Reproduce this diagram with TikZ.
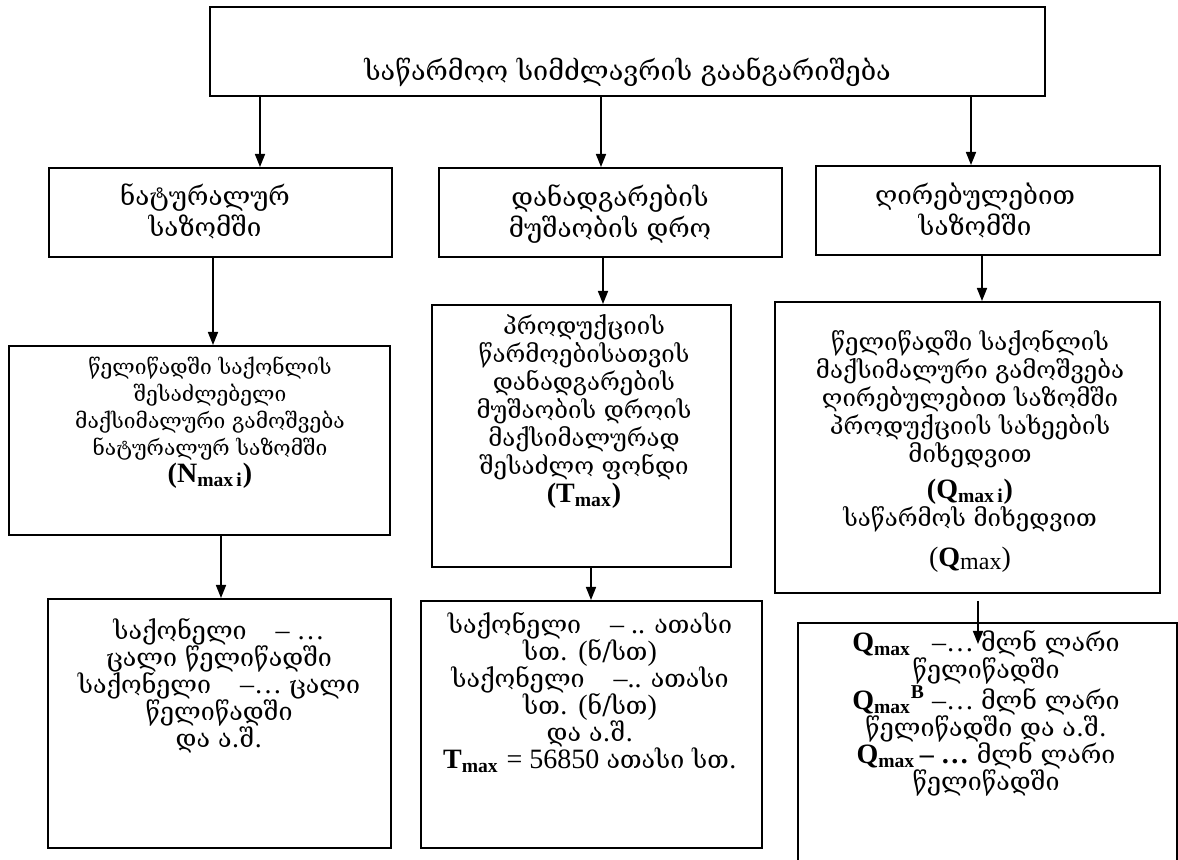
\documentclass[tikz,border=0pt]{standalone}
\usepackage{fontspec}
\setmainfont{Liberation Serif}
\newfontfamily\geo{DejaVu Serif}
\newfontfamily\tms{Liberation Serif}
\usetikzlibrary{arrows.meta,positioning}

\tikzset{
  box/.style={draw, line width=1pt, inner sep=0pt},
  txt/.style={align=center, inner sep=0pt, font=\geo\fontsize{12}{14}\selectfont},
  txtbig/.style={txt, font=\geo\fontsize{13}{15.5}\selectfont},
  txtsm/.style={txt, font=\geo\fontsize{10.5}{13.5}\selectfont},
  txtlow/.style={txt, font=\geo\fontsize{12.5}{13.5}\selectfont},
  arr/.style={line width=0.8pt, -{Triangle[length=6.5pt,width=5pt]}}
}
\newcommand\bq[1]{{\tms\fontsize{14}{14}\selectfont\bfseries #1}}
\newcommand\lt[1]{{\tms\fontsize{14}{14}\selectfont #1}}

\begin{document}
\begin{tikzpicture}[x=0.5pt, y=-0.5pt]
 \useasboundingbox (0,0) rectangle (1178,860);
 \clip (0,0) rectangle (1178,860);
 % top
 \node[box, minimum width=417.5pt, minimum height=44.5pt] (top) at (627.5,51.5) {};
 \node[txt, font=\geo\fontsize{13.5}{16}\selectfont] (topT) at (627.5,72) {საწარმოო სიმძლავრის გაანგარიშება};
 % second row
 \node[box, minimum width=171.5pt, minimum height=44.5pt] (natA) at (220.5,212.5) {};
 \node[txtbig] (natAT) at (205,211) {ნატურალურ\\საზომში};
 \node[box, minimum width=171.5pt, minimum height=44.5pt] (timeB) at (610.5,212.5) {};
 \node[txtbig] (timeBT) at (610,214) {დანადგარების\\მუშაობის დრო};
 \node[box, minimum width=172pt, minimum height=44.5pt] (valC) at (988,210.5) {};
 \node[txtbig] (valCT) at (975,211) {ღირებულებით\\საზომში};
 % third row
 \node[box, minimum width=190.5pt, minimum height=94.5pt] (natA2) at (199.5,440.5) {};
 \node[txtsm, anchor=north] (natA2T) at (210,356) {წელიწადში საქონლის\\შესაძლებელი\\მაქსიმალური გამოშვება\\ნატურალურ საზომში\\\bq{(N\textsubscript{max\,i})}};
 \node[box, minimum width=149.5pt, minimum height=131pt] (timeB2) at (581.5,436) {};
 \node[txt, anchor=north] (timeB2T) at (584,314) {პროდუქციის\\წარმოებისათვის\\დანადგარების\\მუშაობის დროის\\მაქსიმალურად\\შესაძლო ფონდი\\\bq{(T\textsubscript{max})}};
 \node[box, minimum width=192.5pt, minimum height=145.5pt] (valC2) at (967.5,447.5) {};
 \node[txt, anchor=north] (valC2T) at (970,330) {წელიწადში საქონლის\\მაქსიმალური გამოშვება\\ღირებულებით საზომში\\პროდუქციის სახეების\\მიხედვით\\[4pt]\bq{(Q\textsubscript{max\,i})}\\საწარმოს მიხედვით\\[6pt]\lt{(\textbf{Q}\raisebox{-1.5pt}{\fontsize{12}{12}\selectfont max})}};
 % fourth row
 \node[box, minimum width=171.5pt, minimum height=124.5pt] (natA3) at (219.5,723.5) {};
 \node[txtlow, anchor=north] (natA3T) at (219,618) {საქონელი \lt{\ \ \ – …}\\ცალი წელიწადში\\საქონელი \lt{\ \ \ –… }ცალი\\წელიწადში\\და ა.შ.};
 \node[box, minimum width=170.5pt, minimum height=123.5pt] (timeB3) at (591.5,724.5) {};
 \node[txtlow, anchor=north] (timeB3T) at (590,612) {საქონელი \lt{\ \ \ – .. }ათასი\\სთ. \lt{(}ნ/სთ\lt{)}\\საქონელი \lt{\ \ \ –.. }ათასი\\სთ. \lt{(}ნ/სთ\lt{)}\\და ა.შ.\\\bq{T\textsubscript{max}} \lt{= 56850 }ათასი სთ.};
 % this one runs past the bottom of the page
 \node[box, minimum width=189.5pt, minimum height=160pt] (valC3) at (987.5,783) {};
 \node[txtlow, anchor=north] (valC3T) at (986,630) {\bq{Q\textsubscript{max}}\lt{\ \ \ –… }მლნ ლარი\\წელიწადში\\\bq{Q\textsubscript{max}\textsuperscript{B}}\lt{\ –… }მლნ ლარი\\წელიწადში და ა.შ.\\\bq{Q\textsubscript{max}\,– …} მლნ ლარი\\წელიწადში};
 % arrows
 \draw[arr] (top.south -| 260,0) -- (natA.north -| 260,0);
 \draw[arr] (top.south -| 601,0) -- (timeB.north -| 601,0);
 \draw[arr] (top.south -| 971,0) -- (valC.north -| 971,0);
 \draw[arr] (natA.south -| 213,0) -- (natA2.north -| 213,0);
 \draw[arr] (timeB.south -| 603,0) -- (timeB2.north -| 603,0);
 \draw[arr] (valC.south -| 982,0) -- (valC2.north -| 982,0);
 \draw[arr] (natA2.south -| 221,0) -- (natA3.north -| 221,0);
 \draw[arr] (timeB2.south -| 591,0) -- (timeB3.north -| 591,0);
 \draw[arr] ([yshift=-3.5pt]valC2.south -| 978,0) -- ([yshift=-11pt]valC3.north -| 978,0);
\end{tikzpicture}
\end{document}
